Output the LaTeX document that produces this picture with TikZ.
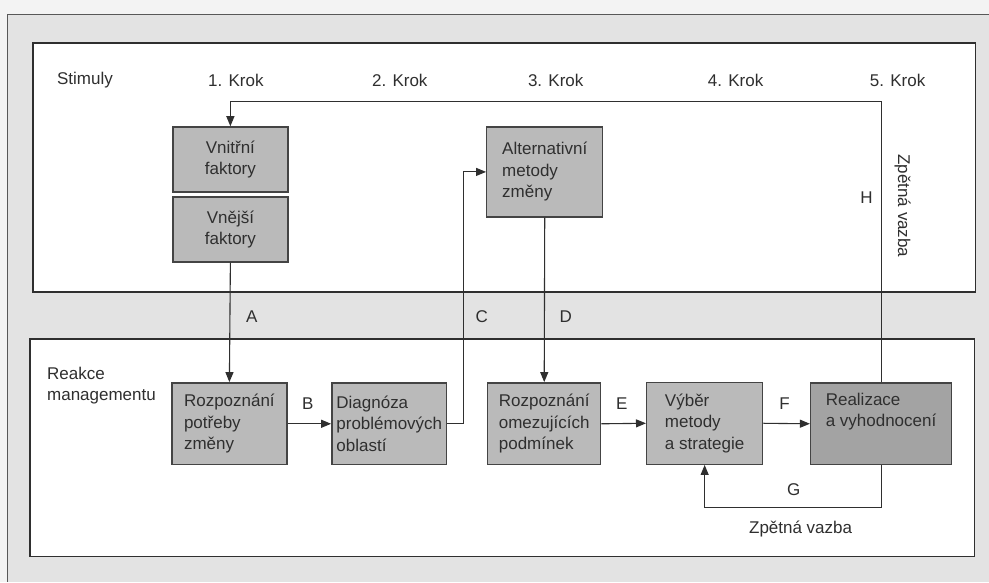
\documentclass[tikz,border=0pt]{standalone}
\usepackage{fontspec}
\setmainfont{Liberation Sans}
\usetikzlibrary{arrows.meta}

\definecolor{paper}{HTML}{E3E3E3}
\definecolor{margin}{HTML}{F3F3F3}
\definecolor{ink}{HTML}{2F2F2F}
\definecolor{boxgray}{HTML}{BABABA}
\definecolor{boxdark}{HTML}{A3A3A3}

\tikzset{
  txt/.style={text=ink, font=\fontsize{17}{21}\selectfont, inner sep=0pt},
  stepbox/.style={draw=ink!90, line width=1.4pt, fill=boxgray, text=ink,
    font=\fontsize{17}{21.5}\selectfont, align=left, inner sep=0pt},
  flow/.style={draw=ink, line width=1.1pt, -{Triangle[length=10pt,width=8pt]}},
  plain/.style={draw=ink, line width=1.1pt},
  panel/.style={draw=ink, line width=1.5pt, fill=white},
}

\begin{document}
\begin{tikzpicture}[x=1pt,y=-1pt]
  % page background and scan frame
  \fill[margin] (0,0) rectangle (989,582);
  \fill[paper] (8,15) rectangle (989,582);
  \draw[ink!80, line width=1pt] (8,582) -- (8,15) -- (989,15);
  \useasboundingbox (0,0) rectangle (989,582);

  % the two panels
  \draw[panel] (33,43) rectangle (976,292);
  \draw[panel] (30,339) rectangle (975,557);

  % column headings
  \node[txt] (stim) at (85,80) {Stimuly};
  \node[txt] (k1) at (236,80) {1. Krok};
  \node[txt] (k2) at (400,80) {2. Krok};
  \node[txt] (k3) at (556,80) {3. Krok};
  \node[txt] (k4) at (736,80) {4. Krok};
  \node[txt] (k5) at (898,80) {5. Krok};

  \node[txt, anchor=north west, align=left] (reakce) at (47,367) {Reakce\\managementu};

  % stimulus boxes
  \node[stepbox, align=center, minimum width=115pt, minimum height=65pt] (vnitrni) at (230.5,159.5) {Vnitřní\\faktory};
  \node[stepbox, align=center, minimum width=115pt, minimum height=65pt] (vnejsi) at (230.5,229.5) {Vnější\\faktory};
  \node[stepbox, minimum width=116pt, minimum height=90pt] (alt) at (545,172) {Alternativní\\metody\\změny};

  % management response boxes
  \node[stepbox, minimum width=115pt, minimum height=82pt] (rp) at (229.5,424) {Rozpoznání\\potřeby\\změny};
  \node[stepbox, minimum width=115pt, minimum height=82pt] (dg) at (389.5,424) {Diagnóza\\problémových\\oblastí};
  \node[stepbox, minimum width=113pt, minimum height=82pt] (ro) at (544.5,424) {Rozpoznání\\omezujících\\podmínek};
  \node[stepbox, minimum width=116pt, minimum height=82pt] (vy) at (705,423.5) {Výběr\\metody\\a strategie};
  \node[stepbox, fill=boxdark, minimum width=141pt, minimum height=82pt] (re) at (881.5,424) {Realizace\\a vyhodnocení\\\strut};

  % connectors
  \draw[flow] (vnejsi.south) -- (rp.north);
  \draw[flow] (rp.east) -- (dg.west);
  \draw[flow] (dg.east) -- ++(16,0) |- (alt.west);
  \draw[flow] (alt.south) -- (ro.north);
  \draw[flow] (ro.east) -- (vy.west);
  \draw[flow] (vy.east) -- (re.west);
  \coordinate (gcorner) at (881.5,508);
  \draw[flow] (re.south) -- (gcorner) -| (vy.south);
  \coordinate (hcorner) at (881.5,102);
  \draw[flow] (re.north) -- (hcorner) -| (vnitrni.north);

  % connector letters
  \node[txt] (la) at (252,317) {A};
  \node[txt] (lb) at (308,404) {B};
  \node[txt] (lc) at (482,317) {C};
  \node[txt] (ld) at (566,317) {D};
  \node[txt] (le) at (622,404) {E};
  \node[txt] (lf) at (785,404) {F};
  \node[txt] (lg) at (794,490) {G};
  \node[txt] (lh) at (867,198) {H};

  % feedback captions
  \node[txt] (zv1) at (801,529) {Zpětná vazba};
  \node[txt, rotate=-90] (zv2) at (903,206) {Zpětná vazba};
\end{tikzpicture}
\end{document}
